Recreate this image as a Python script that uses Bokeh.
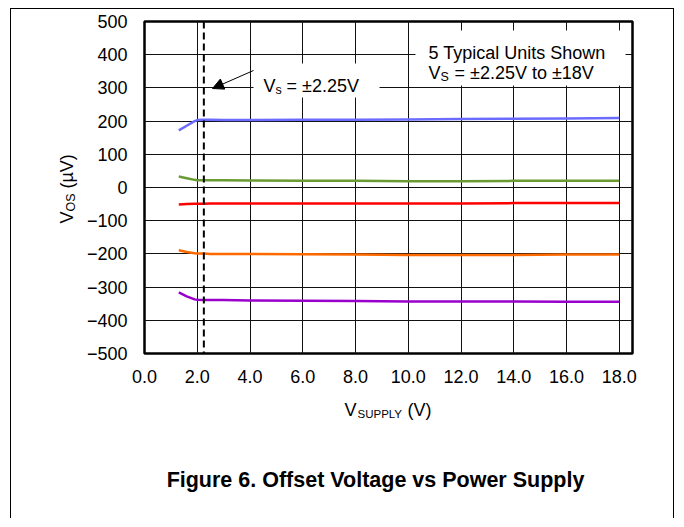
import math
from bokeh.plotting import figure
from bokeh.models import (Range1d, FixedTicker, Span, Label, BoxAnnotation,
                          Arrow, NormalHead)
from bokeh.embed import file_html
from bokeh.resources import INLINE

# ---- data ----
vsupply = [1.3, 1.6, 1.9, 2.0, 2.25, 2.5, 3.0, 4.0, 6.0, 8.0, 10.0, 12.0, 14.0, 16.0, 18.0]
unit_blue = [172, 186, 200, 203, 204, 204, 203, 203, 204, 204, 205, 206, 207, 208, 209]
unit_green = [33, 28, 23, 22, 22, 22, 22, 21, 20, 20, 19, 19, 20, 20, 20]
unit_red = [-51, -50, -49, -49, -49, -48, -48, -48, -48, -48, -48, -48, -47, -47, -47]
unit_orange = [-189, -194, -198, -199, -199, -200, -200, -200, -201, -202, -203, -203, -203, -202, -202]
unit_purple = [-316, -328, -337, -338, -339, -339, -339, -340, -341, -342, -343, -343, -343, -344, -344]
series_colors = ["#6b6bff", "#6a9a32", "#ff0000", "#ff6a00", "#9a00cc"]

x_ticks = [0, 2, 4, 6, 8, 10, 12, 14, 16, 18]
x_tick_labels = ["0.0", "2.0", "4.0", "6.0", "8.0", "10.0", "12.0", "14.0", "16.0", "18.0"]
y_ticks = [-500, -400, -300, -200, -100, 0, 100, 200, 300, 400, 500]
y_tick_labels = ["\u2212500", "\u2212400", "\u2212300", "\u2212200", "\u2212100", "0",
                 "100", "200", "300", "400", "500"]
vs_marker = 2.25

FONT = "Liberation Sans"

p = figure(width=664, height=510, output_backend="svg", toolbar_location=None,
           x_range=Range1d(0, 18.5), y_range=Range1d(-500, 500),
           min_border_left=133, min_border_right=43, min_border_top=12,
           min_border_bottom=166)
p.margin = (8, 0, 0, 10)
p.styles = {"border-top": "1px solid black", "border-left": "1px solid black",
            "border-right": "1px solid black"}

p.background_fill_color = "white"
p.border_fill_color = "white"
p.outline_line_color = "black"
p.outline_line_width = 2.5

for ax in (p.xaxis[0], p.yaxis[0]):
    ax.axis_line_color = None
    ax.major_tick_line_color = None
    ax.minor_tick_line_color = None
    ax.major_label_text_font = FONT
    ax.major_label_text_font_size = "18px"
    ax.major_label_text_color = "black"

p.xaxis[0].ticker = FixedTicker(ticks=x_ticks)
p.xaxis[0].major_label_overrides = {t: s for t, s in zip(x_ticks, x_tick_labels)}
p.xaxis[0].major_label_standoff = 10
p.yaxis[0].ticker = FixedTicker(ticks=y_ticks)
p.yaxis[0].major_label_overrides = {t: s for t, s in zip(y_ticks, y_tick_labels)}
p.yaxis[0].major_label_standoff = 11

p.xgrid.ticker = FixedTicker(ticks=x_ticks)
p.ygrid.ticker = FixedTicker(ticks=y_ticks)
for g in (p.xgrid[0], p.ygrid[0]):
    g.grid_line_color = "#111111"
    g.grid_line_width = 1

for ys, c in zip([unit_blue, unit_green, unit_red, unit_orange, unit_purple], series_colors):
    p.line(vsupply, ys, line_color=c, line_width=2.5)

p.add_layout(Span(location=vs_marker, dimension="height", line_color="black",
                  line_width=2, line_dash="7 4"))

# white boxes behind annotation texts
p.add_layout(BoxAnnotation(left=271, right=481, top=323, bottom=268,
                           left_units="screen", right_units="screen",
                           top_units="screen", bottom_units="screen",
                           fill_color="white", fill_alpha=1.0, line_color=None))
p.add_layout(BoxAnnotation(left=109, right=235, top=290, bottom=256,
                           left_units="screen", right_units="screen",
                           top_units="screen", bottom_units="screen",
                           fill_color="white", fill_alpha=1.0, line_color=None))

def mk(x, y, text, units, size="18px", style="normal", angle=0.0, align="left"):
    return Label(x=x, y=y, x_units=units, y_units=units, text=text,
                 text_font=FONT, text_font_size=size, text_font_style=style,
                 text_color="black", angle=angle, text_align=align,
                 text_baseline="alphabetic")

def lab(x, y, text, **kw):
    p.add_layout(mk(x, y, text, "screen", **kw))

# box annotation
lab(284, 301, "5 Typical Units Shown")
lab(284, 281, "V")
lab(296, 277, "S", size="12.5px")
lab(310, 281, "= \u00b12.25V to \u00b118V")

# Vs marker annotation
lab(119, 268, "V")
lab(131, 264, "s", size="12.5px")
lab(142, 268, "= \u00b12.25V")
p.add_layout(Arrow(x_start=109, y_start=283, x_end=68, y_end=265,
                   start_units="screen", end_units="screen",
                   line_color="black", line_width=1,
                   end=NormalHead(size=11, fill_color="black", line_color="black")))

# texts outside the frame: side panels, canvas coordinates
def side(x, y, text, place, **kw):
    p.add_layout(mk(x, y, text, "canvas", **kw), place)

side(54, 213, "V", "left", angle=math.pi / 2)
side(58, 201, "OS", "left", size="12.5px", angle=math.pi / 2)
side(54, 178, "(\u00b5V)", "left", angle=math.pi / 2)

side(332, 399, "V", "below")
side(345, 403, "SUPPLY", "below", size="11.5px")
side(395, 399, "(V)", "below")

side(363, 469, "Figure 6. Offset Voltage vs Power Supply", "below", size="21.5px",
     style="bold", align="center")

open("out.html", "w").write(file_html(p, INLINE))
